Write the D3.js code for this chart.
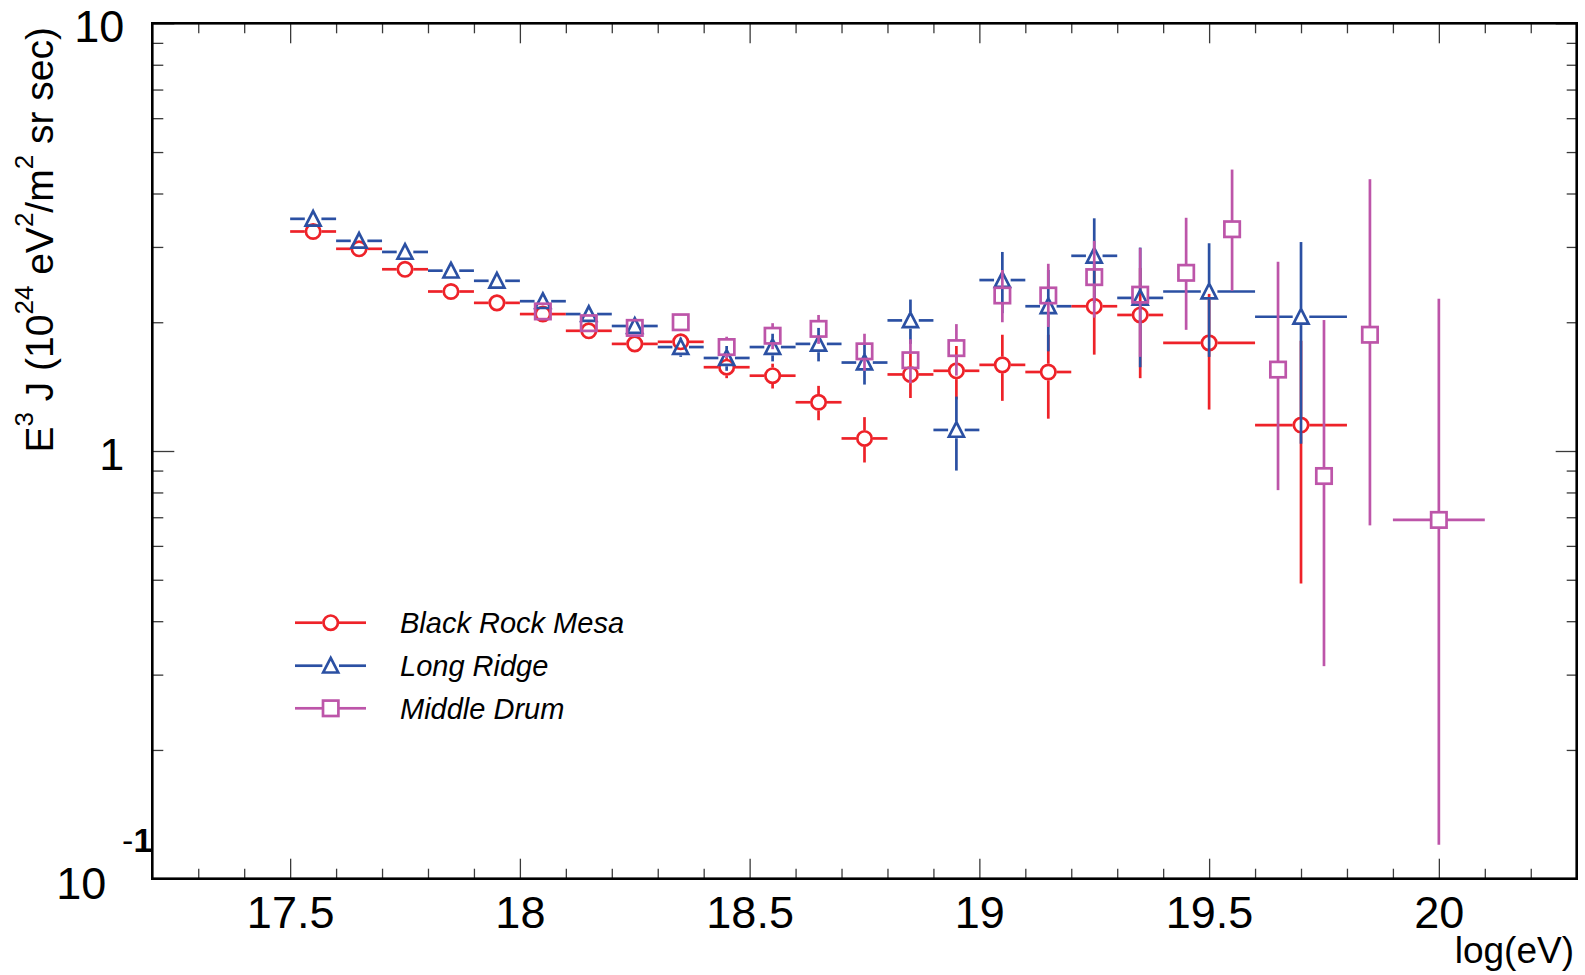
<!DOCTYPE html>
<html>
<head>
<meta charset="utf-8">
<script src="https://cdn.jsdelivr.net/npm/d3@7"></script>
<style>
  body { margin: 0; background: #fff; }
  svg { display: block; }
  text { font-family: "Liberation Sans", Arial, Helvetica, sans-serif; fill: #000; }
</style>
</head>
<body>
<svg id="chart" width="1585" height="975"></svg>
<script>
// ---- Energy spectrum E^3 J per detector site (log10 energy bins) ----
const brmLogE    = [17.55,17.65,17.75,17.85,17.95,18.05,18.15,18.25,18.35,18.45,18.55,18.65,18.75,18.85,18.95,19.05,19.15,19.25,19.35,19.5,19.7];
const brmFlux    = [3.26,2.97,2.66,2.36,2.22,2.09,1.91,1.78,1.80,1.57,1.50,1.30,1.07,1.51,1.54,1.59,1.53,2.18,2.08,1.79,1.15];
const brmErr     = [0.03,0.03,0.03,0.03,0.03,0.04,0.04,0.04,0.05,0.09,0.10,0.12,0.13,0.18,0.22,0.28,0.34,0.50,0.60,0.54,0.66];
const brmBinHalf = [0.05,0.05,0.05,0.05,0.05,0.05,0.05,0.05,0.05,0.05,0.05,0.05,0.05,0.05,0.05,0.05,0.05,0.05,0.05,0.1,0.1];

const lrLogE     = [17.55,17.65,17.75,17.85,17.95,18.05,18.15,18.25,18.35,18.45,18.55,18.65,18.75,18.85,18.95,19.05,19.15,19.25,19.35,19.5,19.7];
const lrFlux     = [3.49,3.10,2.92,2.64,2.50,2.24,2.09,1.96,1.75,1.65,1.75,1.78,1.61,2.02,1.12,2.51,2.18,2.86,2.28,2.36,2.06];
const lrErr      = [0.04,0.04,0.04,0.04,0.04,0.05,0.05,0.06,0.09,0.11,0.13,0.16,0.18,0.24,0.22,0.41,0.47,0.64,0.71,0.70,1.02];
const lrBinHalf  = [0.05,0.05,0.05,0.05,0.05,0.05,0.05,0.05,0.05,0.05,0.05,0.05,0.05,0.05,0.05,0.05,0.05,0.05,0.05,0.1,0.1];

const mdLogE     = [18.05,18.15,18.25,18.35,18.45,18.55,18.65,18.75,18.85,18.95,19.05,19.15,19.25,19.35,19.45,19.55,19.65,19.75,19.85,20.0];
const mdFlux     = [2.12,1.99,1.94,2.00,1.75,1.86,1.93,1.71,1.63,1.74,2.31,2.31,2.55,2.32,2.61,3.30,1.55,0.874,1.87,0.69];
const mdErrUp    = [0.04,0.05,0.06,0.07,0.10,0.13,0.15,0.17,0.195,0.24,0.34,0.43,0.55,0.66,0.90,1.25,1.22,1.15,2.45,1.58];
const mdErrLo    = [0.04,0.05,0.06,0.07,0.10,0.13,0.15,0.17,0.19,0.24,0.31,0.36,0.50,0.66,0.69,0.93,0.74,0.56,1.20,0.57];
const mdBinHalf  = [0,0,0,0,0,0,0,0,0,0,0,0,0,0,0,0,0,0,0,0.1];

const seriesNames  = ["Black Rock Mesa", "Long Ridge", "Middle Drum"];
const seriesColors = ["#ee2229", "#2b50a3", "#bd55a9"];
const seriesShapes = ["circle", "triangle", "square"];

// Axis ticks
const xMajorTicks  = [17.5, 18, 18.5, 19, 19.5, 20];
const xTickLabels  = ["17.5", "18", "18.5", "19", "19.5", "20"];
const xMinorTicks  = [17.3,17.4,17.6,17.7,17.8,17.9,18.1,18.2,18.3,18.4,18.6,18.7,18.8,18.9,19.1,19.2,19.3,19.4,19.6,19.7,19.8,19.9,20.1,20.2];
const yMajorTicks  = [0.1, 1, 10];
const yMinorTicks  = [0.2,0.3,0.4,0.5,0.6,0.7,0.8,0.9,2,3,4,5,6,7,8,9];

// ---- Layout ----
const svg = d3.select("#chart");
const frame = { left: 152.3, right: 1576.7, top: 23.3, bottom: 878.7 };

const x = d3.scaleLinear().domain([17.2, 20.3]).range([frame.left, frame.right]);
const y = d3.scaleLog().domain([0.1, 10]).range([frame.bottom, frame.top]);

const tickStroke = "#3a3a3a";
function styleTicks(g) {
  g.select(".domain").remove();
  g.selectAll(".tick line").attr("stroke", tickStroke).attr("stroke-width", 1.3);
}

// bottom axis: labelled majors + minors, ticks pointing into the frame
const gBottom = svg.append("g").attr("transform", `translate(0,${frame.bottom})`)
  .call(d3.axisBottom(x).tickValues(xMajorTicks).tickSize(-20)
        .tickFormat((d, i) => xTickLabels[i]));
styleTicks(gBottom);
gBottom.selectAll("text").attr("y", 49.5).attr("dy", null)
  .style("font-size", "45px").attr("font-family", null);
svg.append("g").attr("transform", `translate(0,${frame.bottom})`)
  .call(d3.axisBottom(x).tickValues(xMinorTicks).tickSize(-10).tickFormat(""))
  .call(styleTicks);

// top axis: ticks only
svg.append("g").attr("transform", `translate(0,${frame.top})`)
  .call(d3.axisTop(x).tickValues(xMajorTicks).tickSize(-20).tickFormat(""))
  .call(styleTicks);
svg.append("g").attr("transform", `translate(0,${frame.top})`)
  .call(d3.axisTop(x).tickValues(xMinorTicks).tickSize(-10).tickFormat(""))
  .call(styleTicks);

// left axis: decade labels
const gLeft = svg.append("g").attr("transform", `translate(${frame.left},0)`)
  .call(d3.axisLeft(y).tickValues(yMajorTicks).tickSize(-22).tickPadding(28)
        .tickFormat(d => (d >= 1 ? String(d) : "10")));
styleTicks(gLeft);
gLeft.selectAll("text").attr("x", -28).attr("y", 18.5).attr("dy", null)
  .style("font-size", "45px").attr("font-family", null);
// the 10^-1 label sits below the axis end with its exponent tucked against the frame
const lowTick = gLeft.selectAll(".tick").filter(d => d === 0.1);
lowTick.select("text").attr("x", -46).attr("y", 19.5);
lowTick.append("text").attr("x", 0).attr("y", -27).attr("text-anchor", "end")
  .style("font-size", "34px")
  .call(t => { t.append("tspan").text("-"); t.append("tspan").style("font-weight", "bold").text("1"); });
svg.append("g").attr("transform", `translate(${frame.left},0)`)
  .call(d3.axisLeft(y).tickValues(yMinorTicks).tickSize(-11).tickFormat(""))
  .call(styleTicks);

// right axis: ticks only
svg.append("g").attr("transform", `translate(${frame.right},0)`)
  .call(d3.axisRight(y).tickValues(yMajorTicks).tickSize(-21).tickFormat(""))
  .call(styleTicks);
svg.append("g").attr("transform", `translate(${frame.right},0)`)
  .call(d3.axisRight(y).tickValues(yMinorTicks).tickSize(-10).tickFormat(""))
  .call(styleTicks);

// frame
svg.append("rect")
  .attr("x", frame.left).attr("y", frame.top)
  .attr("width", frame.right - frame.left).attr("height", frame.bottom - frame.top)
  .attr("fill", "none").attr("stroke", "#000").attr("stroke-width", 2.6);

// axis titles
svg.append("text").attr("x", 1574).attr("y", 963).attr("text-anchor", "end")
  .style("font-size", "37px").text("log(eV)");

const yTitle = svg.append("text")
  .attr("transform", "translate(53,27) rotate(-90)")
  .attr("text-anchor", "end").style("font-size", "39px");
[["E", 0], ["3", 1], [" J (10", 0], ["24", 1], [" eV", 0], ["2", 1], ["/m", 0], ["2", 1], [" sr sec)", 0]]
  .forEach(([s, sup], i, arr) => {
    const prevSup = i > 0 ? arr[i - 1][1] : 0;
    const dy = sup && !prevSup ? -20 : (!sup && prevSup ? 20 : 0);
    yTitle.append("tspan").attr("dy", dy).style("font-size", sup ? "26px" : null).text(s);
  });

// ---- Markers and error bars ----
const R = 7.2;    // circle radius (stroke centre)
const GAP = 8.3;  // error bars stop at the marker edge
const LW = 2.7;

function drawMarker(g, shape, cx, cy, color) {
  if (shape === "circle") {
    g.append("circle").attr("cx", cx).attr("cy", cy).attr("r", R)
      .attr("fill", "none").attr("stroke", color).attr("stroke-width", LW);
  } else if (shape === "triangle") {
    g.append("path")
      .attr("d", `M${cx},${cy - 7.8}L${cx + 7.5},${cy + 6.8}L${cx - 7.5},${cy + 6.8}Z`)
      .attr("fill", "none").attr("stroke", color).attr("stroke-width", LW)
      .attr("stroke-linejoin", "miter");
  } else {
    g.append("rect").attr("x", cx - 7.7).attr("y", cy - 7.7).attr("width", 15.4).attr("height", 15.4)
      .attr("fill", "none").attr("stroke", color).attr("stroke-width", LW);
  }
}
function seg(g, x1, y1, x2, y2, color) {
  g.append("line").attr("x1", x1).attr("y1", y1).attr("x2", x2).attr("y2", y2)
    .attr("stroke", color).attr("stroke-width", LW);
}

function drawSeries(points, color, shape) {
  const g = svg.append("g");
  points.forEach(p => {
    const cx = x(p.e), cy = y(p.v);
    const yUp = y(p.v + p.up), yLo = y(p.v - p.lo);
    if (cy - yUp > GAP) seg(g, cx, cy - GAP, cx, yUp, color);
    if (yLo - cy > GAP) seg(g, cx, cy + GAP, cx, yLo, color);
    if (p.dx > 0) {
      seg(g, x(p.e - p.dx), cy, cx - GAP, cy, color);
      seg(g, cx + GAP, cy, x(p.e + p.dx), cy, color);
    }
    drawMarker(g, shape, cx, cy, color);
  });
}

const brmPoints = brmLogE.map((e, i) => ({ e, v: brmFlux[i], up: brmErr[i], lo: brmErr[i], dx: brmBinHalf[i] }));
const lrPoints  = lrLogE.map((e, i) => ({ e, v: lrFlux[i], up: lrErr[i], lo: lrErr[i], dx: lrBinHalf[i] }));
const mdPoints  = mdLogE.map((e, i) => ({ e, v: mdFlux[i], up: mdErrUp[i], lo: mdErrLo[i], dx: mdBinHalf[i] }));

drawSeries(brmPoints, seriesColors[0], seriesShapes[0]);
drawSeries(lrPoints,  seriesColors[1], seriesShapes[1]);
drawSeries(mdPoints,  seriesColors[2], seriesShapes[2]);

// ---- Legend ----
const legendRowsY = [622.7, 665.7, 708.3];
const legend = svg.append("g");
seriesNames.forEach((name, i) => {
  const cy = legendRowsY[i], cx = 330.7, color = seriesColors[i];
  seg(legend, 295, cy, cx - GAP, cy, color);
  seg(legend, cx + GAP, cy, 366, cy, color);
  drawMarker(legend, seriesShapes[i], cx, cy, color);
  legend.append("text").attr("x", 400).attr("y", cy + 10.5)
    .style("font-size", "29px").style("font-style", "italic").text(name);
});
</script>
</body>
</html>
